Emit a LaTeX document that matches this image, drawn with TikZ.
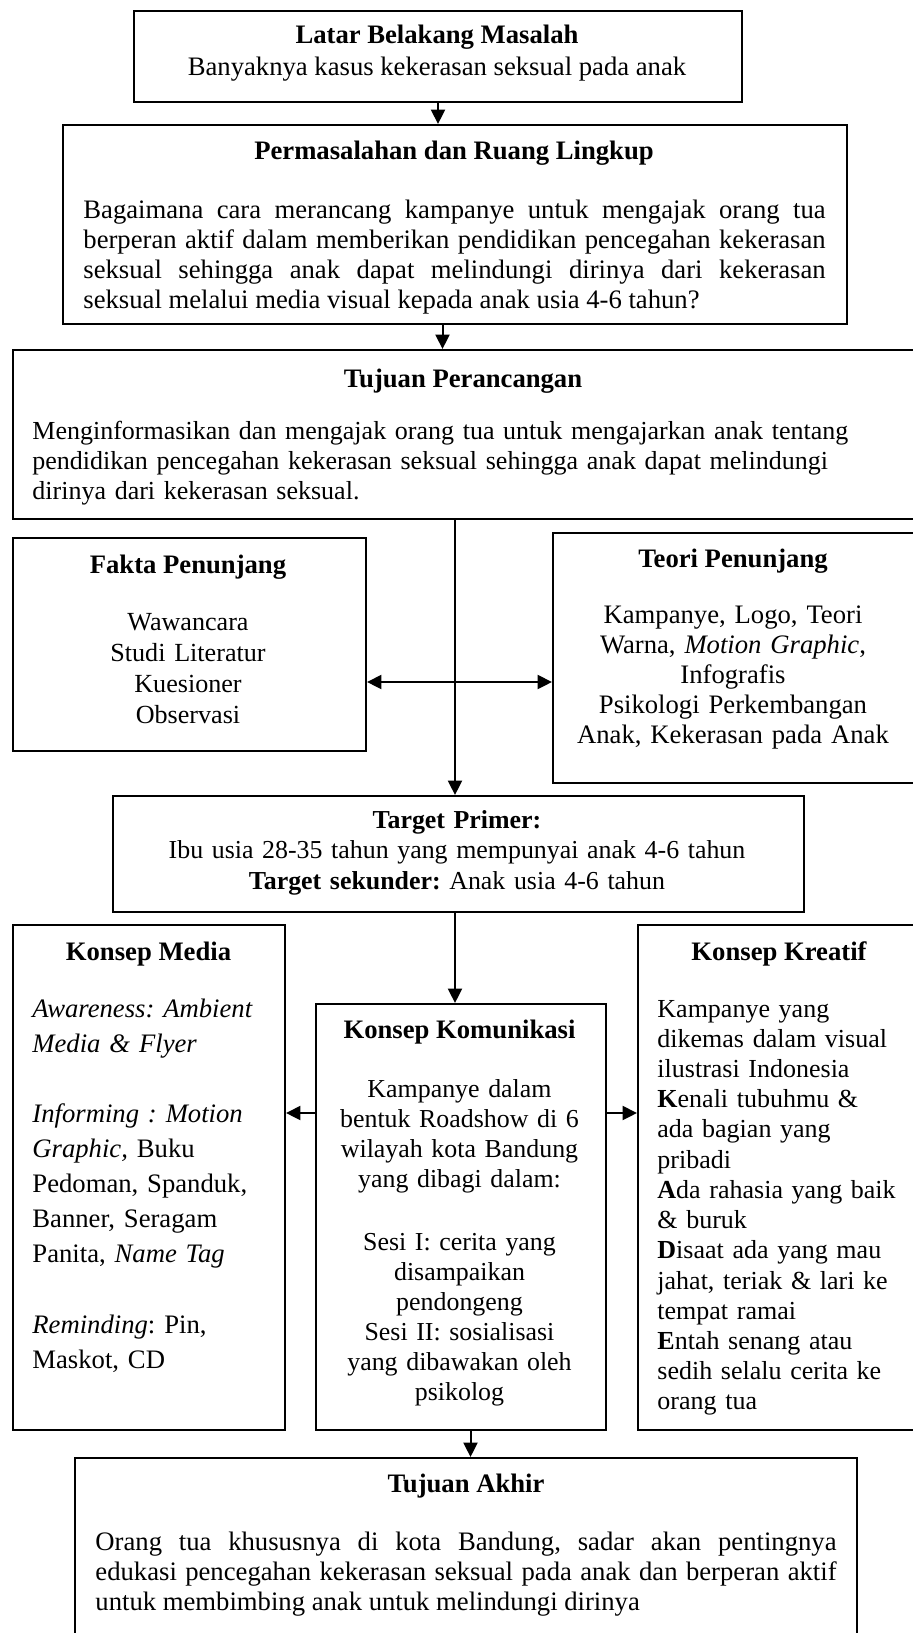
\documentclass[tikz,border=0pt]{standalone}
\usepackage{fontspec}
\setmainfont{Liberation Serif}
\usetikzlibrary{arrows.meta}
\frenchspacing
\begin{document}
\frenchspacing
\begin{tikzpicture}[x=0.45pt,y=-0.45pt,
  box/.style={draw, line width=0.9pt, inner sep=0pt, anchor=north west},
  txt/.style={inner sep=0pt, font=\fontsize{12pt}{13.5pt}\selectfont},
  ttl/.style={inner sep=0pt, anchor=base, font=\fontsize{12pt}{13.5pt}\selectfont\bfseries},
  arr/.style={line width=0.9pt, -{Triangle[length=6.5pt,width=6.3pt]}}]
\clip (0,0) rectangle (913,1633);
\fill[white] (0,0) rectangle (913,1633);
% boxes
\node[box, minimum width=273.6pt, minimum height=40.95pt] (latar) at (133,10) {};
\node[box, minimum width=352.8pt, minimum height=89.55pt] (perm) at (62,124) {};
\node[box, minimum width=413.1pt, minimum height=76.05pt] (tujuan) at (12,349) {};
\node[box, minimum width=158.85pt, minimum height=95.85pt] (fakta) at (12,537) {};
\node[box, minimum width=170.1pt, minimum height=112.5pt] (teori) at (552,532) {};
\node[box, minimum width=310.95pt, minimum height=52.2pt] (target) at (112,795) {};
\node[box, minimum width=122.4pt, minimum height=227.25pt] (media) at (12,924) {};
\node[box, minimum width=130.5pt, minimum height=191.7pt] (komu) at (314.5,1003) {};
\node[box, minimum width=131.85pt, minimum height=227.25pt] (kreatif) at (637,924) {};
\node[box, minimum width=351.9pt, minimum height=86.85pt] (akhir) at (74,1457) {};
% texts
\node[ttl] (tlatar) at (437,43) {Latar Belakang Masalah};
\node[txt, anchor=base] (blatar) at (437,76) {Banyaknya kasus kekerasan seksual pada anak};
\node[ttl] (tperm) at (454,159) {Permasalahan dan Ruang Lingkup};
\node[txt, anchor=base west, text width=334pt, align=justify] (bperm) at (83,218)
 {Bagaimana cara merancang kampanye untuk mengajak orang tua\linebreak
  berperan aktif dalam memberikan pendidikan pencegahan kekerasan\linebreak
  seksual sehingga anak dapat melindungi dirinya dari kekerasan\linebreak
  seksual melalui media visual kepada anak usia 4-6 tahun?};
\node[ttl] (ttujuan) at (463,387) {Tujuan Perancangan};
\node[txt, anchor=base west, text width=420pt, align=left, font=\fontsize{11.7pt}{13.5pt}\selectfont] (btujuan) at (32,439)
 {Menginformasikan dan mengajak orang tua untuk mengajarkan anak tentang\\
  pendidikan pencegahan kekerasan seksual sehingga anak dapat melindungi\\
  dirinya dari kekerasan seksual.};
\node[ttl] (tfakta) at (188,573) {Fakta Penunjang};
\node[txt, anchor=base, text width=150pt, align=center, font=\fontsize{11.75pt}{13.95pt}\selectfont] (bfakta) at (188,630)
 {Wawancara\\ Studi Literatur\\ Kuesioner\\ Observasi};
\node[ttl] (tteori) at (733,567) {Teori Penunjang};
\node[txt, anchor=base, text width=165pt, align=center] (bteori) at (733,623)
 {Kampanye, Logo, Teori\\ Warna, \textit{Motion Graphic},\\ Infografis\\ Psikologi Perkembangan\\ Anak, Kekerasan pada Anak};
\node[txt, anchor=base, text width=305pt, align=center, font=\fontsize{11.65pt}{13.8pt}\selectfont] (btarget) at (457,828)
 {\textbf{Target Primer:}\\ Ibu usia 28-35 tahun yang mempunyai anak 4-6 tahun\\ \textbf{Target sekunder:} Anak usia 4-6 tahun};
\node[ttl] (tmedia) at (148.5,960) {Konsep Media};
\node[txt, anchor=base west, text width=115pt, align=left, font=\fontsize{12pt}{15.8pt}\selectfont] (bmedia) at (32,1017)
 {\textit{Awareness: Ambient}\\ \textit{Media \& Flyer}\\[15.8pt]
  \textit{Informing : Motion}\\ \textit{Graphic,} Buku\\ Pedoman, Spanduk,\\ Banner, Seragam\\ Panita, \textit{Name Tag}\\[15.8pt]
  \textit{Reminding}: Pin,\\ Maskot, CD};
\node[ttl] (tkomu) at (459.5,1038) {Konsep Komunikasi};
\node[txt, anchor=base, text width=128pt, align=center, font=\fontsize{11.65pt}{13.5pt}\selectfont] (bkomu) at (459.5,1097)
 {Kampanye dalam\\ bentuk Roadshow di 6\\ wilayah kota Bandung\\ yang dibagi dalam:\\[14.85pt]
  Sesi I: cerita yang\\ disampaikan\\ pendongeng\\ Sesi II: sosialisasi\\ yang dibawakan oleh\\ psikolog};
\node[ttl] (tkreatif) at (779,960) {Konsep Kreatif};
\node[txt, anchor=base west, text width=120pt, align=left, font=\fontsize{11.7pt}{13.6pt}\selectfont] (bkreatif) at (657,1017)
 {Kampanye yang\\ dikemas dalam visual\\ ilustrasi Indonesia\\ \textbf{K}enali tubuhmu \&\\ ada bagian yang\\ pribadi\\
  \textbf{A}da rahasia yang baik\\ \& buruk\\ \textbf{D}isaat ada yang mau\\ jahat, teriak \& lari ke\\ tempat ramai\\
  \textbf{E}ntah senang atau\\ sedih selalu cerita ke\\ orang tua};
\node[ttl] (takhir) at (466,1492) {Tujuan Akhir};
\node[txt, anchor=base west, text width=333.5pt, align=justify] (bakhir) at (95,1550)
 {Orang tua khususnya di kota Bandung, sadar akan pentingnya\linebreak
  edukasi pencegahan kekerasan seksual pada anak dan berperan aktif\linebreak
  untuk membimbing anak untuk melindungi dirinya};
% helper coordinates
\coordinate (xa) at (442.5,0);
\coordinate (xc) at (455,0);
\coordinate (xd) at (470.5,0);
\coordinate (jy) at (0,682);
\coordinate (ky) at (0,1113);
% connectors
\draw[arr] (latar.south) -- (latar.south |- perm.north);
\draw[arr] (perm.south -| xa) -- (tujuan.north -| xa);
\draw[arr] (tujuan.south -| xc) -- (target.north -| xc);
\draw[arr] (xc |- jy) -- (fakta.east |- jy);
\draw[arr] (xc |- jy) -- (teori.west |- jy);
\draw[arr] (target.south -| xc) -- (komu.north -| xc);
\draw[arr] (komu.west |- ky) -- (media.east |- ky);
\draw[arr] (komu.east |- ky) -- (kreatif.west |- ky);
\draw[arr] (komu.south -| xd) -- (akhir.north -| xd);
\end{tikzpicture}
\end{document}
